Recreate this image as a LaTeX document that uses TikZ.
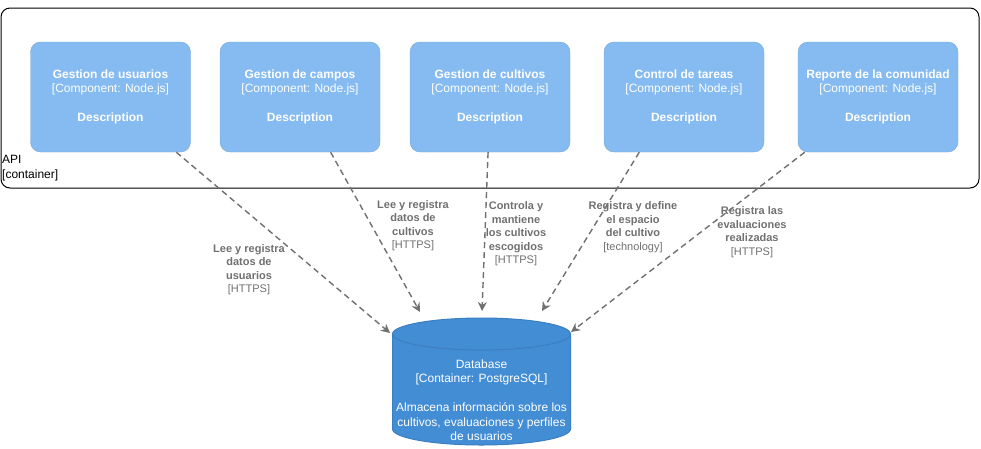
\documentclass[tikz,border=0pt]{standalone}
\usepackage{fontspec}
\setmainfont{Liberation Sans}
\usetikzlibrary{arrows.meta}
\definecolor{compfill}{HTML}{85BBF0}
\definecolor{compline}{HTML}{78A8D8}
\definecolor{dbfill}{HTML}{438DD5}
\definecolor{dbline}{HTML}{3C7FC0}
\definecolor{relgray}{HTML}{707070}
\begin{document}
\begin{tikzpicture}[x=1pt,y=-1pt,
            comp/.style={draw=compline,fill=compfill,rounded corners=10pt,minimum width=160pt,minimum height=110pt,text=white,align=center,font=\fontsize{12}{14.5}\selectfont},
            rel/.style={draw=relgray,line width=1.4pt,dash pattern=on 6pt off 4pt,-{Stealth[length=9pt,width=9pt]}},
            rellabel/.style={text=relgray,align=center,font=\fontsize{11}{13.5}\selectfont\bfseries}]
            \useasboundingbox (0,0) rectangle (981,448);
            % container boundary
            \node[draw,line width=1pt,rounded corners=9pt,minimum width=978pt,minimum height=180pt] (api) at (490,98) {};
            \node[anchor=north west,align=left,inner sep=0pt,font=\fontsize{12}{15}\selectfont] (apilabel) at (2,155) {API\\{[container]}};
            % components
            \node[comp] (usuarios) at (110.5,97) {\textbf{Gestion de usuarios}\\{[Component: Node.js]}\\[14.5pt]\textbf{Description}};
            \node[comp] (campos) at (300,97) {\textbf{Gestion de campos}\\{[Component: Node.js]}\\[14.5pt]\textbf{Description}};
            \node[comp] (cultivos) at (490,97) {\textbf{Gestion de cultivos}\\{[Component: Node.js]}\\[14.5pt]\textbf{Description}};
            \node[comp] (tareas) at (684,97) {\textbf{Control de tareas}\\{[Component: Node.js]}\\[14.5pt]\textbf{Description}};
            \node[comp] (reporte) at (878,97) {\textbf{Reporte de la comunidad}\\{[Component: Node.js]}\\[14.5pt]\textbf{Description}};
            % database cylinder
            \path[draw=dbline,fill=dbfill,line width=1pt] (392.5,334) -- (392.5,429) arc[start angle=180,end angle=360,x radius=89pt,y radius=16pt] -- (570.5,334) arc[start angle=0,end angle=180,x radius=89pt,y radius=16pt] -- cycle;
            \draw[dbline,line width=1pt] (392.5,334) arc[start angle=180,end angle=360,x radius=89pt,y radius=16pt];
            \node[text=white,align=center,font=\fontsize{12}{14.5}\selectfont] (db) at (481.5,400) {Database\\{[Container: PostgreSQL]}\\[14.5pt]Almacena información sobre los\\cultivos, evaluaciones y perfiles\\de usuarios};
            \coordinate (dbin1) at (390,333);
            \coordinate (dbin2) at (420,312);
            \coordinate (dbin3) at (482,311);
            \coordinate (dbin4) at (542,311);
            \coordinate (dbin5) at (571,332);
            % relations
            \draw[rel] (usuarios.-40) -- (dbin1);
            \draw[rel] (campos.-61) -- (dbin2);
            \draw[rel] (cultivos.-92) -- (dbin3);
            \draw[rel] (tareas.-129) -- (dbin4);
            \draw[rel] (reporte.-143) -- (dbin5);
            \node[rellabel] (l1) at (249,269.5) {Lee y registra\\datos de\\usuarios\\\mdseries [HTTPS]};
            \node[rellabel] (l2) at (413,225.5) {Lee y registra\\datos de\\cultivos\\\mdseries [HTTPS]};
            \node[rellabel] (l3) at (516,234) {Controla y\\mantiene\\los cultivos\\escogidos\\\mdseries [HTTPS]};
            \node[rellabel] (l4) at (633,227) {Registra y define\\el espacio\\del cultivo\\\mdseries [technology]};
            \node[rellabel] (l5) at (752,232) {Registra las\\evaluaciones\\realizadas\\\mdseries [HTTPS]};
\end{tikzpicture}
\end{document}
